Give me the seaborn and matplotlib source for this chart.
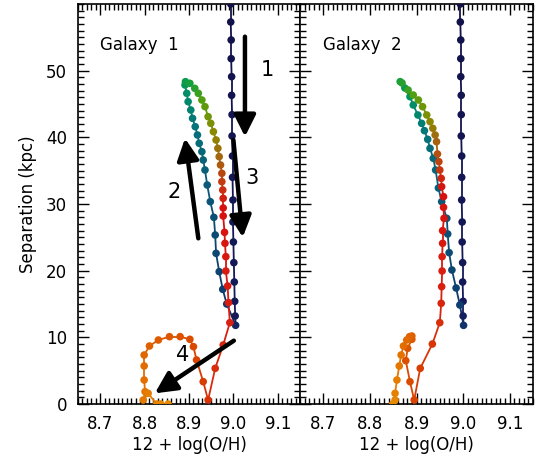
import numpy as np
import pandas as pd
import matplotlib
matplotlib.use("Agg")
import matplotlib.pyplot as plt
import seaborn as sns
from matplotlib.collections import LineCollection
from matplotlib.colors import LinearSegmentedColormap
from matplotlib.ticker import MultipleLocator

# ─────────────────────────────────────────────
# DATA
# ─────────────────────────────────────────────
# approach phase (navy), identical spacing in both panels
approach_sep = [60.0, 57.3, 54.6, 51.8, 49.1, 46.3, 43.4, 40.2, 37.2, 34.0,
                30.6, 27.3, 24.3, 21.2, 18.3, 15.4, 13.2, 11.8]
g1_approach_oh = [8.994, 8.994, 8.995, 8.995, 8.996, 8.996, 8.997, 8.997, 8.998,
                  8.998, 8.999, 8.999, 9.000, 9.001, 9.002, 9.003, 9.004, 9.005]
g2_approach_oh = [8.994, 8.994, 8.995, 8.995, 8.995, 8.996, 8.996, 8.996, 8.997,
                  8.997, 8.997, 8.998, 8.998, 8.999, 8.999, 9.000, 9.000, 9.001]

# galaxy 1: out to apocentre, back in, then the merger loop
g1_oh = [8.985, 8.976, 8.968, 8.961, 8.959, 8.956, 8.948, 8.941, 8.936, 8.932,
         8.929, 8.923, 8.919, 8.914, 8.908, 8.904, 8.898, 8.895, 8.891, 8.892,
         8.902, 8.913, 8.921, 8.929, 8.936, 8.943, 8.949, 8.955, 8.961, 8.965,
         8.968, 8.971, 8.974, 8.974, 8.976, 8.977, 8.977, 8.977, 8.980, 8.981,
         8.983, 8.983, 8.987, 8.989, 8.992, 8.977, 8.959, 8.943, 8.932, 8.917,
         8.910, 8.902, 8.880, 8.856, 8.831, 8.811, 8.799, 8.799, 8.799, 8.801,
         8.797, 8.808, 8.827, 8.836, 8.853]
g1_sep = [15.0, 17.2, 19.85, 22.6, 25.35, 28.0, 30.35, 32.85, 35.1, 36.6,
          37.85, 39.1, 40.35, 41.6, 42.85, 44.1, 45.35, 46.6, 47.85, 48.35,
          48.1, 47.35, 46.6, 45.6, 44.6, 43.1, 42.1, 40.85, 39.6, 38.35,
          37.1, 35.85, 34.6, 33.35, 32.1, 30.85, 29.4, 28.2, 25.75, 24.1,
          22.1, 19.95, 17.7, 15.2, 12.2, 8.85, 5.35, 0.6, 3.35, 6.6,
          8.6, 9.7, 10.1, 10.1, 9.6, 8.7, 7.35, 5.7, 3.6, 1.85,
          0.6, 1.6, 0.0, 0.0, 0.0]

# galaxy 2
g2_oh = [8.993, 8.985, 8.976, 8.970, 8.967, 8.965, 8.954, 8.947, 8.941, 8.936,
         8.929, 8.924, 8.917, 8.911, 8.903, 8.893, 8.886, 8.875, 8.865,
         8.869, 8.882, 8.893, 8.904, 8.913, 8.922, 8.929, 8.935, 8.940, 8.943,
         8.945, 8.948, 8.950, 8.953, 8.954, 8.958, 8.958, 8.959, 8.956, 8.956,
         8.955, 8.955, 8.954, 8.953, 8.950, 8.934, 8.908, 8.895, 8.886, 8.877,
         8.881, 8.890, 8.890, 8.885, 8.879, 8.872, 8.867, 8.863, 8.858, 8.854,
         8.854, 8.849]
g2_sep = [14.85, 17.4, 20.1, 22.7, 25.5, 27.85, 30.35, 32.4, 35.1, 36.85,
          38.35, 39.7, 41.0, 42.1, 43.35, 44.85, 46.1, 47.4, 48.35,
          48.15, 47.1, 46.35, 45.6, 44.6, 43.35, 42.35, 41.35, 40.35, 39.35,
          37.5, 36.35, 35.1, 33.85, 32.6, 31.1, 29.5, 27.85, 26.0, 24.1,
          22.1, 19.95, 17.6, 15.1, 12.2, 9.0, 5.35, 0.6, 3.35, 6.5,
          8.35, 9.7, 10.2, 10.1, 9.6, 8.7, 7.35, 5.7, 3.6, 1.6,
          0.6, 0.0]

panel_titles = ["Galaxy  1", "Galaxy  2"]
x_ticks = [8.7, 8.8, 8.9, 9.0, 9.1]
y_ticks = [0, 10, 20, 30, 40, 50]

# arrows in panel 1: (tail_oh, tail_sep, head_oh, head_sep, label, label_oh, label_sep)
arrows = [
    (9.026, 55.1, 9.026, 40.1, "1", 9.076, 50.1),
    (8.921, 24.85, 8.891, 39.85, "2", 8.866, 31.8),
    (9.000, 39.6, 9.021, 25.0, "3", 9.042, 33.9),
    (9.001, 9.5, 8.823, 1.6, "4", 8.886, 7.35),
]

# colour sequence along the time axis
track_colors = [
    (0.00, "#12124a"), (0.20, "#141a5a"), (0.22, "#0e3a6e"),
    (0.30, "#0a5878"), (0.38, "#05757a"), (0.43, "#009064"),
    (0.46, "#10a040"), (0.50, "#50a010"), (0.55, "#8a8a00"),
    (0.59, "#a86010"), (0.63, "#c83410"), (0.66, "#d81010"),
    (0.76, "#d82010"), (0.82, "#d84400"), (0.90, "#e06400"),
    (1.00, "#e88a00"),
]
cmap = LinearSegmentedColormap.from_list("track", track_colors)


def draw_track(ax, oh, sep):
    n = len(oh)
    df = pd.DataFrame({"oh": oh, "sep": sep, "step": np.arange(n)})
    cols = cmap(df["step"] / (n - 1))
    pts = df[["oh", "sep"]].to_numpy()
    segs = np.stack([pts[:-1], pts[1:]], axis=1)
    lc = LineCollection(segs, colors=cols[:-1], linewidths=1.3, zorder=2)
    ax.add_collection(lc)
    sns.scatterplot(data=df, x="oh", y="sep", hue="step", palette=cmap,
                    hue_norm=(0, n - 1), s=30, linewidth=0, legend=False,
                    ax=ax, zorder=3, clip_on=True)


sns.set_style("ticks")
plt.rcParams["font.family"] = ["DejaVu Sans"]
plt.rcParams["text.color"] = "black"
plt.rcParams["axes.labelcolor"] = "black"

fig = plt.figure(figsize=(5.4, 4.67), dpi=100)
ax1 = fig.add_axes([78 / 540, 63 / 467, 222 / 540, 400 / 467])
ax2 = fig.add_axes([300 / 540, 63 / 467, 233 / 540, 400 / 467])

tracks = [
    (g1_approach_oh + g1_oh, approach_sep + g1_sep),
    (g2_approach_oh + g2_oh, approach_sep + g2_sep),
]

for i, (ax, (oh, sep)) in enumerate(zip([ax1, ax2], tracks)):
    draw_track(ax, oh, sep)
    ax.set_xlim(8.65, 9.15)
    ax.set_ylim(0, 60)
    ax.set_xticks(x_ticks)
    ax.set_xticklabels([f"{t:.1f}" for t in x_ticks])
    ax.xaxis.set_minor_locator(MultipleLocator(0.01))
    ax.set_yticks(y_ticks)
    ax.yaxis.set_minor_locator(MultipleLocator(1))
    ax.tick_params(which="both", direction="in", top=True, right=True,
                   width=1.0, colors="black", labelcolor="black",
                   labelsize=12, pad=8)
    ax.tick_params(which="major", length=8)
    ax.tick_params(which="minor", length=4)
    for sp in ax.spines.values():
        sp.set_linewidth(1.2)
        sp.set_color("black")
    ax.set_xlabel("12 + log(O/H)", fontsize=12, labelpad=2, color="black")
    ax.set_ylabel("")
    ax.text(8.70, 53.9, panel_titles[i], fontsize=12, va="center", ha="left",
            color="black")

ax1.set_ylabel("Separation (kpc)", fontsize=12, labelpad=6, color="black")
ax2.set_yticklabels([])

for x0, y0, x1, y1, lab, lx, ly in arrows:
    ax1.annotate("", xy=(x1, y1), xytext=(x0, y0),
                 arrowprops=dict(arrowstyle="-|>,head_length=1.3,head_width=0.65",
                                 lw=3.2, color="black", mutation_scale=10,
                                 shrinkA=0, shrinkB=0), zorder=5)
    ax1.text(lx, ly, lab, fontsize=15, ha="center", va="center", zorder=6,
             color="black")

fig.savefig("out.png", dpi=100)
